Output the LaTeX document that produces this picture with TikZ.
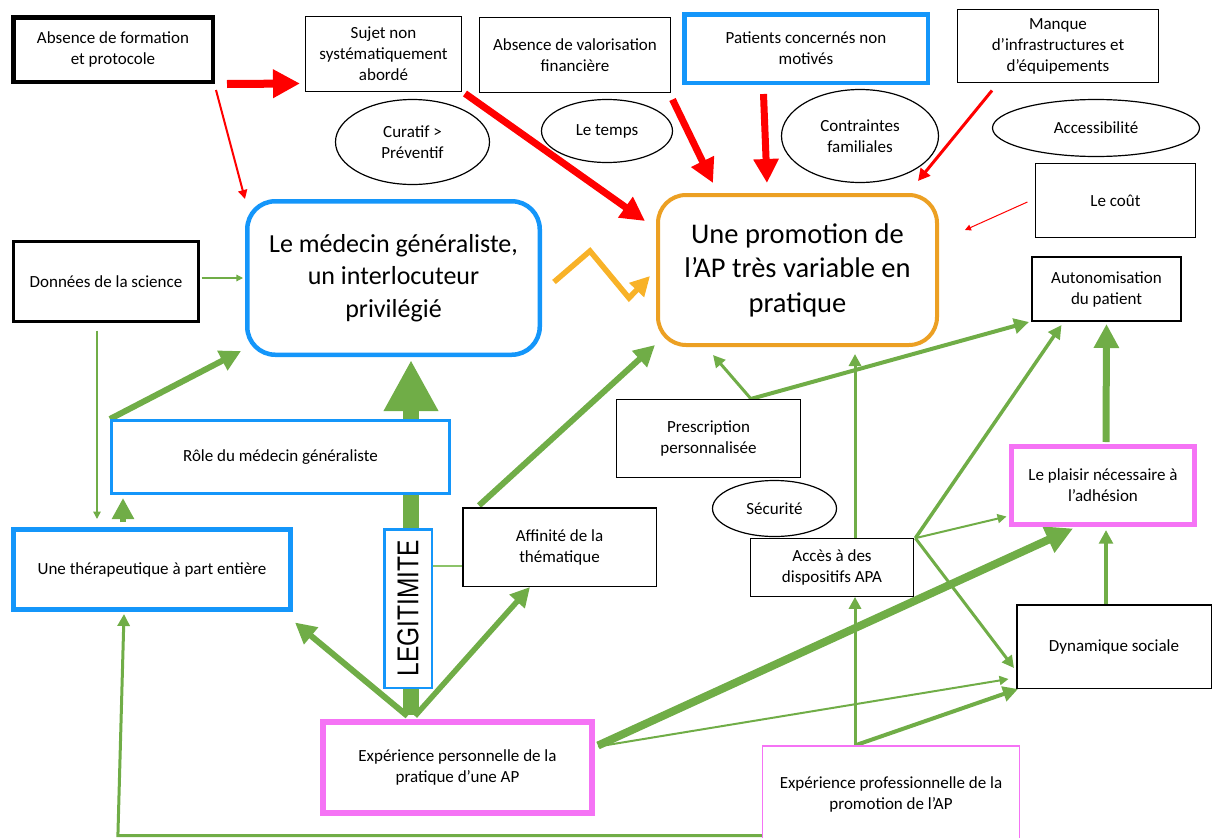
\documentclass[tikz,border=0pt]{standalone}
\usepackage{fontspec}
\setmainfont{Carlito}
\newfontfamily\legitfont{Liberation Sans}
\usepackage{tikz}
\usetikzlibrary{arrows.meta,backgrounds,shapes.geometric}
\definecolor{apblue}{RGB}{20,150,250}
\definecolor{apgreen}{RGB}{112,173,71}
\definecolor{aplightgreen}{RGB}{140,195,105}
\definecolor{apred}{RGB}{255,0,0}
\definecolor{aporange}{RGB}{236,160,35}
\definecolor{apyellow}{RGB}{248,178,40}
\definecolor{apmagenta}{RGB}{245,115,245}
\newcommand{\aptext}{\fontsize{17}{21}\selectfont}
\newcommand{\apbig}{\fontsize{26}{32.5}\selectfont}
\newcommand{\aphuge}{\fontsize{28.5}{34.5}\selectfont}

\begin{document}
\begin{tikzpicture}[
		x=1pt, y=-1pt,
		>={Triangle[length=3pt 3, width=3pt 3]},
		box/.style={
			draw=black,
			line width=1.2pt,
			fill=white,
			inner sep=2pt,
			align=center,
			font=\aptext
		},
		bubble/.style={box, ellipse},
		bluebox/.style={box, draw=apblue},
		pinkbox/.style={box, draw=apmagenta},
		bigbox/.style={box, rounded corners=28pt, font=\apbig},
		redarrow/.style={draw=apred, ->},
		greenarrow/.style={draw=apgreen, ->}
	]
	\useasboundingbox (0,0) rectangle (1213,838);

	\node[box, line width=4.5pt, minimum width=199.5pt, minimum height=64.5pt] (formation) at (113,49.5)
		{Absence de formation\\et protocole};
	\node[box, minimum width=155.8pt, minimum height=74.8pt] (sujet) at (383.5,54)
		{Sujet non\\systématiquement\\abordé};
	\node[box, minimum width=190.8pt, minimum height=74.8pt] (valorisation) at (575,55)
		{Absence de valorisation\\financière};
	\node[bluebox, line width=4.5pt, minimum width=243.5pt, minimum height=68.5pt] (patients) at (806,48.5)
		{Patients concernés non\\motivés};
	\node[box, minimum width=200.8pt, minimum height=72.8pt] (manque) at (1058,46)
		{Manque\\d’infrastructures et\\d’équipements};

	\node[bubble, minimum width=154pt, minimum height=85pt] (curatif) at (412.5,142) {Curatif >\\Préventif};
	\node[bubble, minimum width=131pt, minimum height=63pt] (temps) at (607,131) {Le temps};
	\node[bubble, minimum width=157pt, minimum height=93pt] (contraintes) at (860,136) {Contraintes\\familiales};
	\node[bubble, minimum width=207pt, minimum height=57pt] (accessibilite) at (1096,128) {Accessibilité};
	\node[box, minimum width=160pt, minimum height=74pt] (cout) at (1115.5,200.5) {Le coût};

	\node[bigbox, draw=aporange, line width=4pt, font=\aphuge, minimum width=279pt, minimum height=150pt] (promotion) at (797.5,270)
		{Une promotion de\\l’AP très variable en\\pratique};
	\node[bigbox, draw=apblue, line width=4.5pt, minimum width=292.5pt, minimum height=153.5pt] (medecin) at (393.5,278)
		{Le médecin généraliste,\\un interlocuteur\\privilégié};
	\node[box, line width=3pt, minimum width=185pt, minimum height=80pt] (donnees) at (106,281.5)
		{Données de la science};
	\node[box, line width=2pt, minimum width=149pt, minimum height=64pt] (autonomisation) at (1106.5,289)
		{Autonomisation\\du patient};

	\node[bluebox, line width=3pt, minimum width=338pt, minimum height=73pt] (role) at (280.5,457)
		{Rôle du médecin généraliste};
	\node[box, minimum width=184pt, minimum height=78pt] (prescription) at (708.5,438.5)
		{Prescription\\personnalisée};
	\node[bubble, minimum width=124pt, minimum height=56pt] (securite) at (774.5,508.5) {Sécurité};
	\node[pinkbox, line width=5pt, minimum width=183pt, minimum height=78pt] (plaisir) at (1103,485.5)
		{Le plaisir nécessaire à\\l’adhésion};

	\node[bluebox, line width=5pt, minimum width=277pt, minimum height=80pt] (therapeutique) at (152,569.5)
		{Une thérapeutique à part entière};
	\node[bluebox, line width=2.5pt, minimum width=47.5pt, minimum height=158.5pt] (legitimite) at (408,608.5)
		{\rotatebox{90}{\legitfont\fontsize{24.5}{24.5}\selectfont\scalebox{1}[1.23]{LEGITIMITE}}};
	\node[box, line width=1.5pt, minimum width=193.5pt, minimum height=78.5pt] (affinite) at (559.5,547)
		{Affinité de la\\thématique};
	\node[box, minimum width=162.5pt, minimum height=57.5pt] (acces) at (832,567.5)
		{Accès à des\\dispositifs APA};
	\node[box, line width=1.5pt, minimum width=194.5pt, minimum height=83.5pt] (dynamique) at (1114,646.5)
		{Dynamique sociale};

	\node[pinkbox, line width=6pt, minimum width=269pt, minimum height=91pt] (personnelle) at (457.5,767.5)
		{Expérience personnelle de la\\pratique d’une AP};
	\node[pinkbox, minimum width=257pt, minimum height=96pt] (professionnelle) at (891,794)
		{Expérience professionnelle de la\\promotion de l’AP};

	\begin{scope}[on background layer]
		\draw[redarrow, line width=8pt] ([xshift=12pt]formation.south east) -- ([xshift=-5pt,yshift=8.5pt]sujet.south west);
		\draw[redarrow, line width=2pt] ([xshift=1pt,yshift=-6pt]formation.south east) -- (medecin.north west);
		\draw[redarrow, line width=7pt] ([xshift=3pt,yshift=-1.5pt]sujet.south east) -- ([xshift=-11pt,yshift=-28pt]promotion.north west);
		\draw[redarrow, line width=7pt] ([xshift=1.5pt,yshift=-6.5pt]valorisation.south east) -- ([xshift=-84.5pt,yshift=10pt]promotion.north);
		\draw[redarrow, line width=7pt] ([xshift=-42.5pt,yshift=-9pt]patients.south) -- ([xshift=-30.5pt,yshift=10pt]promotion.north);
		\draw[redarrow, line width=3pt] ([xshift=-66pt,yshift=-7.5pt]manque.south) -- ([xshift=-21pt,yshift=12pt]promotion.north east);
		\draw[redarrow, line width=1pt] ([xshift=-7.5pt,yshift=-1.5pt]cout.west) -- ([xshift=26pt,yshift=40pt]promotion.east);

		\draw[draw=apyellow, line width=5.5pt, ->] ([xshift=12pt,yshift=-4pt]medecin.east) -- ++(36,-31) -- ++(39,47)
			-- ([xshift=-6pt,yshift=-6pt]promotion.west);

		\draw[greenarrow, line width=1.2pt] ([xshift=1.5pt,yshift=3.5pt]donnees.east) -- ([xshift=-2pt]medecin.west);
		\draw[greenarrow, line width=1.5pt] ([xshift=-9pt,yshift=-7.5pt]donnees.south) -- ([xshift=-55pt,yshift=8pt]therapeutique.north);
		\draw[greenarrow, line width=6pt] (role.north west) -- ([xshift=-4pt,yshift=6pt]medecin.south west);
		\draw[greenarrow, line width=6pt] ([xshift=-29pt,yshift=5pt]therapeutique.north) -- ([xshift=-157.5pt,yshift=-3pt]role.south);
		\draw[greenarrow, line width=16pt] ([xshift=-46.5pt,yshift=4pt]personnelle.north) -- ([xshift=17.5pt,yshift=-3pt]medecin.south);
		\draw[greenarrow, line width=6pt] ([xshift=17pt,yshift=1.5pt]affinite.north west) -- ([xshift=-1pt,yshift=2pt]promotion.south west);
		\draw[draw=aplightgreen, line width=1.5pt] ([yshift=42.5pt]legitimite.east) -- ([yshift=-19pt]affinite.west);
		\draw[greenarrow, line width=6pt] ([xshift=-50pt,yshift=3pt]personnelle.north) -- ([xshift=2pt,yshift=-10.5pt]therapeutique.south east);
		\draw[greenarrow, line width=5.5pt] ([xshift=-42.5pt,yshift=3pt]personnelle.north) -- ([xshift=-29.5pt]affinite.south);
		\draw[greenarrow, line width=8pt] ([xshift=3pt,yshift=22pt]personnelle.east) -- ([xshift=-30pt,yshift=-1.5pt]plaisir.south);
		\draw[greenarrow, line width=2pt] ([xshift=3pt,yshift=21pt]personnelle.east) -- ([xshift=-7.5pt,yshift=-32.5pt]dynamique.west);
		\draw[greenarrow, line width=3pt] ([yshift=7pt]professionnelle.south west) -- ++(-644,0) -- ([xshift=-28pt,yshift=-2pt]therapeutique.south);
		\draw[greenarrow, line width=3pt] ([xshift=-36pt]professionnelle.north) -- ([xshift=23pt]acces.south);
		\draw[greenarrow, line width=4pt] ([xshift=-36pt]professionnelle.north) -- ([xshift=2pt]dynamique.south west);
		\draw[greenarrow, line width=3pt] ([xshift=23pt]acces.north) -- ([xshift=57.5pt,yshift=-7pt]promotion.south);
		\draw[greenarrow, line width=3.5pt] ([xshift=1.5pt]acces.north east) -- ([xshift=-45pt,yshift=-3pt]autonomisation.south);
		\draw[greenarrow, line width=2pt] ([xshift=1.5pt]acces.north east) -- ([xshift=-2.5pt,yshift=10.5pt]plaisir.south west);
		\draw[greenarrow, line width=3pt] ([xshift=1.5pt]acces.north east) -- ([xshift=-2pt,yshift=-21.5pt]dynamique.west);
		\draw[greenarrow, line width=3pt] ([xshift=42.5pt]prescription.north) -- ([xshift=-84.5pt,yshift=-8pt]promotion.south);
		\draw[greenarrow, line width=4pt] ([xshift=42.5pt]prescription.north) -- ([xshift=-2pt]autonomisation.south west);
		\draw[greenarrow, line width=7pt] ([xshift=3pt,yshift=2pt]plaisir.north) -- ([yshift=-2pt]autonomisation.south);
		\draw[greenarrow, line width=3.5pt] ([xshift=-8pt]dynamique.north) -- ([xshift=3pt,yshift=-3pt]plaisir.south);
	\end{scope}
\end{tikzpicture}
\end{document}
